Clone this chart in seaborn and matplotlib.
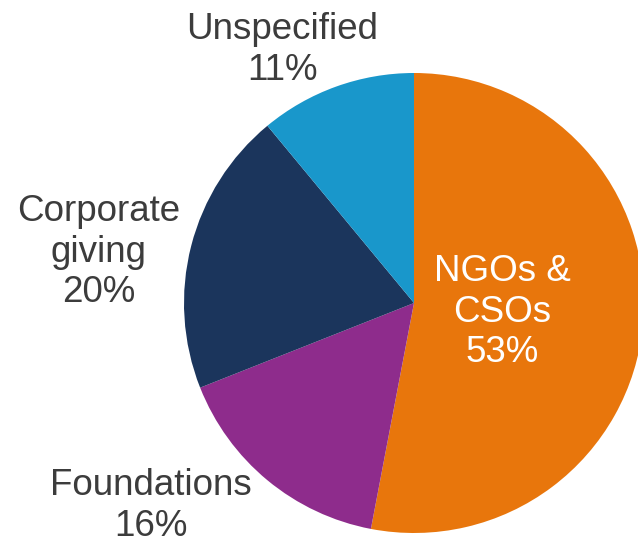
import matplotlib
matplotlib.use("Agg")
import matplotlib.pyplot as plt
import seaborn as sns

# funding shares, clockwise from 12 o'clock
categories = ["NGOs &\nCSOs", "Foundations", "Corporate\ngiving", "Unspecified"]
shares = [53, 16, 20, 11]
colors = ["#E8760C", "#8E2C8C", "#1B355C", "#1997CB"]

sns.set_style("white")
plt.rcParams["font.family"] = ["Liberation Sans", "DejaVu Sans"]

W, H = 638, 547
fig = plt.figure(figsize=(W / 100, H / 100), dpi=100)
ax = fig.add_axes([0, 0, 1, 1])

ax.pie(shares, colors=colors, startangle=90, counterclock=False,
       center=(414, H - 303), radius=230, frame=True,
       wedgeprops=dict(linewidth=0))
ax.set_xlim(0, W)
ax.set_ylim(0, H)
ax.set_aspect("equal")
ax.axis("off")

# label positions (pixel coordinates of text centres)
label_pos = [(502, 312), (151, 506), (99, 252), (282, 50)]
txt_col = ["white", "#3c3c3c", "#3c3c3c", "#3c3c3c"]
for cat, val, (x, y), c in zip(categories, shares, label_pos, txt_col):
    ax.text(x, H - y, f"{cat}\n{val}%", ha="center", va="center",
            fontsize=26.5, color=c, linespacing=1.22)

fig.savefig("out.png", dpi=100)
